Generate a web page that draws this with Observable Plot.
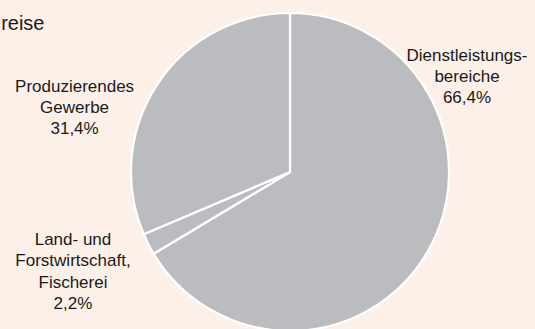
<!DOCTYPE html>
<html>
<head>
<meta charset="utf-8">
<script src="https://cdn.jsdelivr.net/npm/d3@7"></script>
<script src="https://cdn.jsdelivr.net/npm/@observablehq/plot@0.6"></script>
<style>
  html, body { margin: 0; padding: 0; background: #fdf0e8; }
  svg { display: block; }
</style>
</head>
<body>
<div id="chart"></div>
<script>
// Data
const categories = ["Dienstleistungsbereiche", "Land- und Forstwirtschaft, Fischerei", "Produzierendes Gewerbe"];
const values = [66.4, 2.2, 31.4];
const labels = ["Dienstleistungs-\nbereiche\n66,4%", "Land- und\nForstwirtschaft,\nFischerei\n2,2%", "Produzierendes\nGewerbe\n31,4%"];
const titleText = "reise";

// Label anchor layout (in pie-radius units relative to pie centre)
const labelX = [1.110, -1.368, -1.358];
const labelY = [0.799, -0.362, 0.604];

const table = categories.map((c, i) => ({category: c, value: values[i], label: labels[i], lx: labelX[i], ly: labelY[i]}));

const W = 535, H = 329, cx = 290, cy = 172, R = 159;
const fontFamily = "Liberation Sans, Arial, Helvetica, sans-serif";

function pieMark(index, scales) {
  const x = scales.x, y = scales.y;
  const px = x(0), py = y(0);
  const rad = x(1) - x(0);
  const arcs = d3.pie().sort(null).value(d => d.value)(table);
  const arc = d3.arc().innerRadius(0).outerRadius(rad);
  const g = d3.create("svg:g").attr("transform", `translate(${px},${py})`);
  g.selectAll("path").data(arcs).join("path")
    .attr("d", arc)
    .attr("fill", "#bbbcc0")
    .attr("stroke", "#ffffff")
    .attr("stroke-width", 2.2)
    .attr("stroke-linejoin", "round");
  return g.node();
}

const plot = Plot.plot({
  width: W,
  height: H,
  margin: 0,
  style: {background: "#fdf0e8", fontFamily, overflow: "visible"},
  x: {domain: [(0 - cx) / R, (W - cx) / R], axis: null},
  y: {domain: [(cy - H) / R, cy / R], axis: null},
  marks: [
    pieMark,
    Plot.text(table, {
      x: "lx", y: "ly", text: "label",
      lineAnchor: "top", lineHeight: 1.25,
      fontSize: 17, fill: "#1a1a1a", textAnchor: "middle"
    }),
    Plot.text([titleText], {
      frameAnchor: "top-left", dx: 44, dy: 14.8, textAnchor: "end",
      lineAnchor: "top", fontSize: 20, fill: "#1a1a1a"
    })
  ]
});
document.getElementById("chart").appendChild(plot);
</script>
</body>
</html>
